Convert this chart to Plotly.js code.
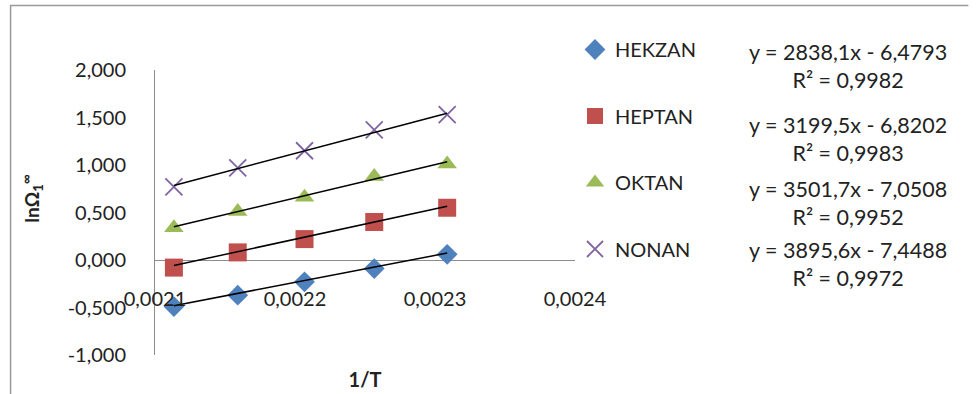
<!DOCTYPE html>
<html>
<head>
<meta charset="utf-8">
<script src="https://cdn.plot.ly/plotly-3.0.1.min.js"></script>
<style>html,body{margin:0;padding:0;background:#fff;}#chart{width:979px;height:394px;}</style>
</head>
<body>
<div id="chart"></div>
<script>
// ---- data ----
const invT = [0.0021135, 0.0021591, 0.0022068, 0.0022566, 0.0023087];
const seriesNames = ["HEKZAN", "HEPTAN", "OKTAN", "NONAN"];
const hekzan = [-0.49, -0.37, -0.23, -0.09, 0.06];
const heptan = [-0.08, 0.08, 0.22, 0.40, 0.55];
const oktan  = [0.34, 0.51, 0.66, 0.88, 1.01];
const nonan  = [0.77, 0.97, 1.15, 1.37, 1.53];
const slopes = [2838.1, 3199.5, 3501.7, 3895.6];
const intercepts = [-6.4793, -6.8202, -7.0508, -7.4488];
const eqTexts = ["y = 2838,1x - 6,4793", "y = 3199,5x - 6,8202", "y = 3501,7x - 7,0508", "y = 3895,6x - 7,4488"];
const r2Texts = ["R² = 0,9982", "R² = 0,9983", "R² = 0,9952", "R² = 0,9972"];
const yTickVals = [-1, -0.5, 0, 0.5, 1, 1.5, 2];
const yTickText = ["-1,000", "-0,500", "0,000", "0,500", "1,000", "1,500", "2,000"];
const xTickVals = [0.0021, 0.0022, 0.0023, 0.0024];
const xTickText = ["0,0021", "0,0022", "0,0023", "0,0024"];

// ---- styles ----
const values = [hekzan, heptan, oktan, nonan];
const colors = ["#4F81BD", "#C0504D", "#9BBB59", "#8064A2"];
const symbols = ["diamond", "square", "triangle-up", "x-thin-open"];
const sizes = [16, 18, 17, 17];
const FONT = "Lato, 'Open Sans', sans-serif";
const W = 979, H = 394;
const L = 155, R = 581, T = 70, B = 355;
const pw = R - L, ph = B - T;
const px = v => (v - L) / pw;
const py = v => (B - v) / ph;

const traces = [];
values.forEach((v, i) => {
  traces.push({
    x: invT, y: v, type: "scatter", mode: "markers", name: seriesNames[i],
    legendgroup: "g" + i,
    marker: {symbol: symbols[i], size: sizes[i], color: colors[i],
             line: {color: colors[i], width: symbols[i] === "x-thin-open" ? 1.8 : 0}},
    hoverinfo: "x+y"
  });
});
values.forEach((v, i) => {
  const xs = [invT[0], invT[invT.length - 1]];
  traces.push({
    x: xs, y: xs.map(x => slopes[i] * x + intercepts[i]),
    type: "scatter", mode: "lines", showlegend: false, legendgroup: "g" + i,
    line: {color: "#000", width: 1.5}, hoverinfo: "skip"
  });
});

const eqY = [66.5, 138.5, 202.5, 264];
const annotations = eqTexts.map((t, i) => ({
  xref: "paper", yref: "paper", x: px(858), y: py(eqY[i]),
  xanchor: "center", yanchor: "middle", align: "center", showarrow: false,
  text: t + "<br>" + r2Texts[i], font: {family: FONT, size: 21.5, color: "#222"}
}));
annotations.push({
  xref: "paper", yref: "paper", x: px(30), y: py(198), textangle: -90,
  xanchor: "center", yanchor: "middle", showarrow: false,
  text: "<b>lnΩ<sub>1</sub><sup>∞</sup></b>", font: {family: FONT, size: 19, color: "#222"}
});

const layout = {
  width: W, height: H,
  margin: {l: L, r: W - R, t: T, b: H - B, pad: 0},
  paper_bgcolor: "#fff", plot_bgcolor: "#fff",
  separators: ",.",
  font: {family: FONT, size: 20, color: "#222"},
  showlegend: true,
  legend: {xref: "container", yref: "container", x: 575 / W, y: 1 - 30 / H,
           xanchor: "left", yanchor: "top", tracegroupgap: 37.5, maxheight: 380,
           traceorder: "grouped", font: {family: FONT, size: 20, color: "#222"},
           bgcolor: "rgba(0,0,0,0)", itemwidth: 30},
  xaxis: {range: [0.0021, 0.0024], tickvals: xTickVals, ticktext: xTickText,
          showgrid: false, zeroline: false, showline: false, ticks: "",
          anchor: "free", position: py(285),
          title: {text: "<b>1/T</b>", font: {family: FONT, size: 20, color: "#222"}, standoff: 63}},
  yaxis: {range: [-1, 2], tickvals: yTickVals, ticktext: yTickText,
          showgrid: false, zeroline: true, zerolinecolor: "#8c8c8c", zerolinewidth: 1,
          showline: true, linecolor: "#8c8c8c", linewidth: 1, ticks: "",
          ticklabelstandoff: 24},
  shapes: [
    {type: "line", xref: "paper", yref: "paper", x0: px(8), x1: px(980), y0: py(5.5), y1: py(5.5),
     line: {color: "#999", width: 1.5}},
    {type: "line", xref: "paper", yref: "paper", x0: px(8.5), x1: px(8.5), y0: py(5), y1: py(395),
     line: {color: "#999", width: 1.5}}
  ],
  annotations: annotations
};

Plotly.newPlot("chart", traces, layout, {displayModeBar: false, staticPlot: true});
</script>
</body>
</html>
